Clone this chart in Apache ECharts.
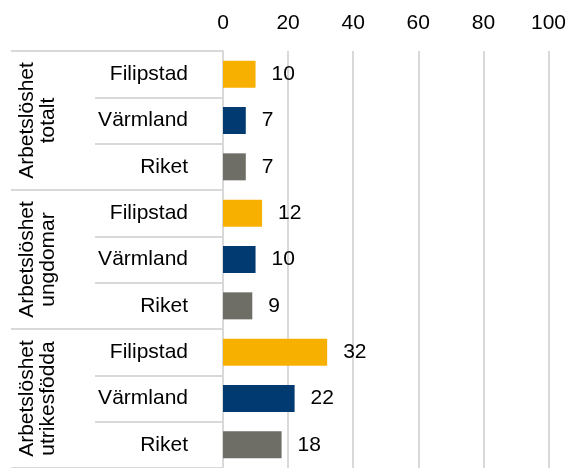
<!DOCTYPE html>
<html>
<head>
<meta charset="utf-8">
<script src="https://cdn.jsdelivr.net/npm/echarts@6/dist/echarts.min.js"></script>
<style>
  html, body { margin: 0; padding: 0; background: #fff; }
  #chart { width: 569px; height: 468px; }
</style>
</head>
<body>
<div id="chart"></div>
<script>
// grupper (yttre nivå) och orter (inre nivå)
const groups = ['Arbetslöshet\ntotalt', 'Arbetslöshet\nungdomar', 'Arbetslöshet\nutrikesfödda']
const places = ['Filipstad', 'Värmland', 'Riket']
// värden i samma ordning: grupp för grupp, ort för ort
const values = [10, 7, 7, 12, 10, 9, 32, 22, 18]
const xTicks = [0, 20, 40, 60, 80, 100]
const placeColors = { Filipstad: '#F8B000', Värmland: '#003A70', Riket: '#6E6E66' }

const rowLabels = []
groups.forEach(() => places.forEach(p => rowLabels.push(p)))

const font = 'Liberation Sans, Arial, sans-serif'
const lineColor = '#d9d9d9'

let myChart = echarts.init(document.getElementById('chart'))
let option = {
  animation: false,
  grid: {
    left: 223,
    right: 18,
    top: 51,
    height: 422,
    containLabel: false
  },
  xAxis: {
    type: 'value',
    position: 'top',
    min: xTicks[0],
    max: xTicks[xTicks.length - 1],
    interval: 20,
    axisLine: { show: false },
    axisTick: { show: false },
    axisLabel: { color: '#000', fontSize: 21, fontFamily: font, margin: 17 },
    splitLine: { lineStyle: { color: lineColor, width: 2 } }
  },
  yAxis: [
    {
      type: 'category',
      data: rowLabels,
      inverse: true,
      axisLine: { show: true, lineStyle: { color: lineColor, width: 2 } },
      axisTick: { show: true, interval: 0, length: 128, lineStyle: { color: lineColor, width: 2 } },
      axisLabel: { interval: 0, color: '#000', fontSize: 21, fontFamily: font, margin: 35 }
    },
    {
      // yttre nivå: gruppnamn, roterade
      type: 'category',
      data: groups,
      inverse: true,
      position: 'left',
      offset: 128,
      axisLine: { show: false },
      axisTick: { show: true, interval: 0, length: 84, lineStyle: { color: lineColor, width: 2 } },
      axisLabel: {
        interval: 0,
        color: '#000',
        fontSize: 21,
        fontFamily: font,
        lineHeight: 21,
        rotate: 90,
        margin: 36
      }
    }
  ],
  series: [
    {
      type: 'bar',
      yAxisIndex: 0,
      barWidth: 27,
      data: values.map((v, i) => ({
        value: v,
        itemStyle: { color: placeColors[rowLabels[i]] }
      })),
      label: {
        show: true,
        position: 'right',
        distance: 16,
        color: '#000',
        fontSize: 21,
        fontFamily: font
      }
    }
  ]
}
myChart.setOption(option)
</script>
</body>
</html>
